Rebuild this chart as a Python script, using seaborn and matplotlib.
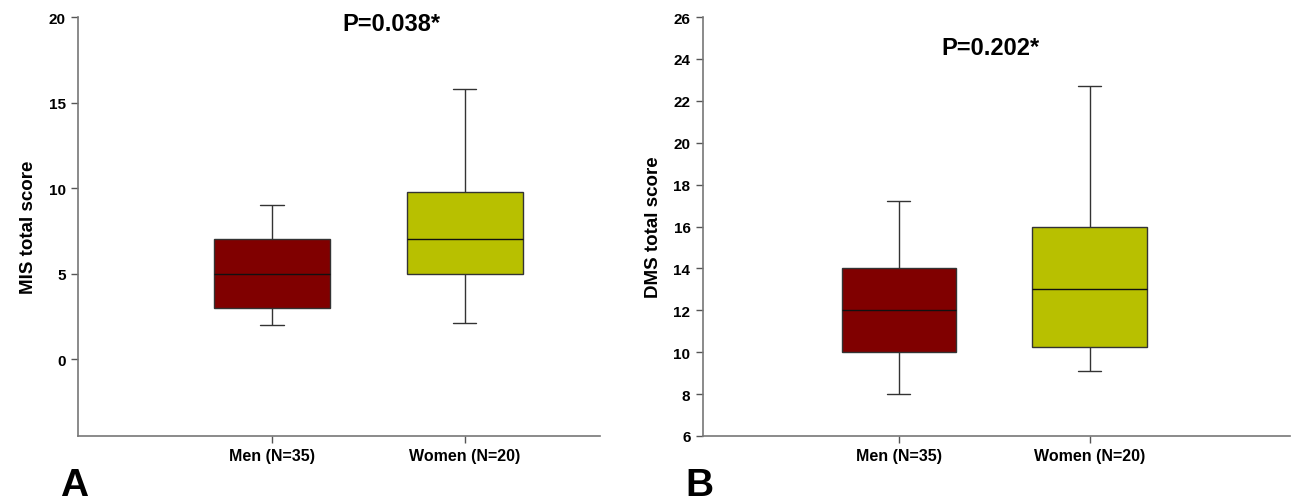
import matplotlib
matplotlib.use("Agg")
import matplotlib.pyplot as plt
import seaborn as sns
import pandas as pd
import numpy as np

sns.set_theme(style="white")
plt.rcParams['font.family'] = ['Liberation Sans', 'DejaVu Sans']
plt.rcParams['text.color'] = '#000000'
plt.rcParams['axes.labelcolor'] = '#000000'

groups = ["Men (N=35)", "Women (N=20)"]
colors = ["#800000", "#B8C000"]
# five-number summaries: min, Q1, median, Q3, max
mis_men = [2.0, 3.0, 5.0, 7.0, 9.0]
mis_women = [2.1, 5.0, 7.0, 9.75, 15.8]
dms_men = [8.0, 10.0, 12.0, 14.0, 17.2]
dms_women = [9.1, 10.25, 13.0, 16.0, 22.7]

mis_ticks = [0, 5, 10, 15, 20]
dms_ticks = [6, 8, 10, 12, 14, 16, 18, 20, 22, 24, 26]

BOX_W = 0.6
CAP_FRAC = 0.2


def frame(a, b):
    return pd.DataFrame({
        "group": [groups[0]] * len(a) + [groups[1]] * len(b),
        "value": a + b,
    })


fig = plt.figure(figsize=(12.91, 5.02), dpi=100)
axA = fig.add_axes([78 / 1291, 65 / 502, (600 - 78) / 1291, (437 - 18) / 502])
axB = fig.add_axes([703 / 1291, 65 / 502, (1290 - 703) / 1291, (437 - 18) / 502])

line_kw = dict(color="#333333", linewidth=1.0)
for ax, df, ticks, ylim, xlim, ylabel in [
    (axA, frame(mis_men, mis_women), mis_ticks, (-4.5, 20), (-1.005, 1.70), "MIS total score"),
    (axB, frame(dms_men, dms_women), dms_ticks, (6, 26), (-1.026, 2.05), "DMS total score"),
]:
    sns.boxplot(data=df, x="group", y="value", hue="group", palette=colors,
                order=groups, hue_order=groups, legend=False,
                whis=(0, 100), width=BOX_W, saturation=1, ax=ax,
                boxprops=dict(edgecolor="#333333", linewidth=1.0),
                whiskerprops=line_kw, capprops=line_kw,
                medianprops=dict(color="#111111", linewidth=1.0),
                showfliers=False)
    # narrow the whisker caps
    for ln in ax.lines:
        xd = np.asarray(ln.get_xdata(), dtype=float)
        yd = np.asarray(ln.get_ydata(), dtype=float)
        if len(xd) == 2 and yd[0] == yd[1]:
            span = abs(xd[1] - xd[0])
            if 0 < span < BOX_W * 0.9:
                c = xd.mean()
                half = BOX_W * CAP_FRAC / 2
                ln.set_xdata([c - half, c + half])
    ax.set_ylim(*ylim)
    ax.set_xlim(*xlim)
    ax.set_yticks(ticks)
    ax.set_yticklabels([str(t) for t in ticks], fontweight="bold", fontsize=11)
    ax.set_xticks(range(len(groups)))
    ax.set_xticklabels(groups, fontweight="bold", fontsize=11.5)
    ax.set_xlabel("")
    ax.set_ylabel(ylabel, fontweight="bold", fontsize=13.5, labelpad=8)
    for s in ["top", "right"]:
        ax.spines[s].set_visible(False)
    for s in ["left", "bottom"]:
        ax.spines[s].set_color("#777777")
        ax.spines[s].set_linewidth(1.2)
    ax.tick_params(axis="both", direction="out", length=5, width=1, color="#555555",
                   left=True, bottom=True, pad=4, labelcolor="#000000")
    ax.set_facecolor("white")

axA.text(0.60, 0.985, "P=0.038*", transform=axA.transAxes, ha="center", va="center",
         fontsize=17, fontweight="bold")
axB.text(0.49, 0.928, "P=0.202*", transform=axB.transAxes, ha="center", va="center",
         fontsize=17, fontweight="bold")
fig.text(74 / 1291, 1 - 486 / 502, "A", fontsize=28, fontweight="bold", ha="center", va="center")
fig.text(699 / 1291, 1 - 486 / 502, "B", fontsize=28, fontweight="bold", ha="center", va="center")

fig.savefig("out.png", dpi=100, facecolor="white")
